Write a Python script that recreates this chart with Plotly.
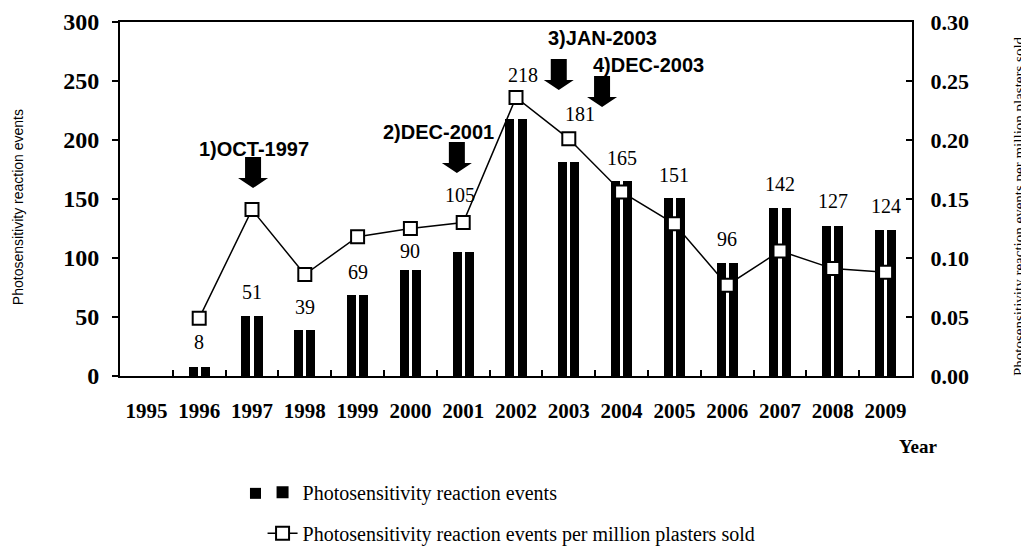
import plotly.graph_objects as go

# ---- data ----
years = [1995, 1996, 1997, 1998, 1999, 2000, 2001, 2002, 2003, 2004, 2005, 2006, 2007, 2008, 2009]
events = [None, 8, 51, 39, 69, 90, 105, 218, 181, 165, 151, 96, 142, 127, 124]
rate_per_million = [None, 0.049, 0.141, 0.086, 0.118, 0.125, 0.130, 0.236, 0.201, 0.156, 0.129, 0.077, 0.106, 0.091, 0.088]
tick_labels = [str(y) for y in years]
milestones = ["1)OCT-1997", "2)DEC-2001", "3)JAN-2003", "4)DEC-2003"]

# ---- styling / placement (not data) ----
label_yshift = [0, 25, 24, 23, 23, 19, 57, 44, 48, 23, 23, 24, 24, 25, 24]
label_xshift = [0, 0, 0, 0, 0, 0, -3, 7, 11, 0, 0, 0, 0, 0, 0]
milestone_text_pos = [(1997.04, 192.4), (2000.54, 206.8), (2003.63, 286.4), (2004.50, 263.6)]
milestone_arrow_tip = [(1997.02, 159.3), (2000.88, 172.0), (2002.81, 242.4), (2003.63, 227.9)]

SERIF = "Liberation Serif"
SANS = "Liberation Sans"

fig = go.Figure()

bar_w = 0.17
for i, off in enumerate([-0.199, 0.029]):
    fig.add_trace(go.Bar(
        x=years, y=events, width=bar_w, offset=off,
        marker=dict(color="black", line=dict(width=0)),
        name="Photosensitivity reaction events",
        showlegend=(i == 0), legendgroup="g1",
        yaxis="y",
    ))

fig.add_trace(go.Scatter(
    x=years, y=rate_per_million, mode="lines+markers",
    line=dict(color="black", width=1.5),
    marker=dict(symbol="square", size=13, color="white", line=dict(color="black", width=2)),
    name="Photosensitivity reaction events per million plasters sold",
    legendgroup="g2", yaxis="y2",
))

annotations = []
for yr, v, dx, dy in zip(years, events, label_xshift, label_yshift):
    if v is None:
        continue
    annotations.append(dict(x=yr, y=v, xref="x", yref="y", text=str(v), showarrow=False,
                            xshift=dx, yshift=dy, xanchor="center", yanchor="middle",
                            font=dict(family=SERIF, size=20, color="black")))

for txt, (tx, ty) in zip(milestones, milestone_text_pos):
    annotations.append(dict(x=tx, y=ty, xref="x", yref="y", text=txt, showarrow=False,
                            xanchor="center", yanchor="middle",
                            font=dict(family=SANS, size=20, color="black", weight="bold")))

annotations += [
    dict(x=-0.1288, y=0.477, xref="paper", yref="paper", text="Photosensitivity reaction events",
         textangle=-90, showarrow=False, xanchor="center", yanchor="middle",
         font=dict(family=SANS, size=14, color="black")),
    dict(x=1.135, y=0.480, xref="paper", yref="paper",
         text="Photosensitivity reaction events per million plasters sold",
         textangle=-90, showarrow=False, xanchor="center", yanchor="middle",
         font=dict(family=SERIF, size=15, color="black")),
    dict(x=1.0076, y=-0.2, xref="paper", yref="paper", text="Year", showarrow=False,
         xanchor="center", yanchor="middle",
         font=dict(family=SERIF, size=19, color="black", weight="bold")),
]

arrow_path = "M -8,31 L 8,31 L 8,10 L 15,10 L 0,0 L -15,10 L -8,10 Z"
shapes = []
for ax_, ay_ in milestone_arrow_tip:
    shapes.append(dict(type="path", xref="x", yref="y", xsizemode="pixel", ysizemode="pixel",
                       xanchor=ax_, yanchor=ay_, path=arrow_path,
                       fillcolor="black", line=dict(width=0)))
# second small square of the bar legend key ("■ ■")
shapes.append(dict(type="rect", xref="paper", yref="paper",
                   x0=0.1641, x1=0.178, y0=-0.347, y1=-0.316,
                   fillcolor="black", line=dict(width=0)))

fig.update_layout(
    width=1029, height=557,
    margin=dict(l=112, r=125, t=14, b=189, autoexpand=False),
    paper_bgcolor="white", plot_bgcolor="white",
    barmode="overlay", bargap=0,
    annotations=annotations, shapes=shapes,
    xaxis=dict(
        range=[1994.5, 2009.5], tickmode="array", tickvals=years, ticktext=tick_labels,
        ticks="", showgrid=False, zeroline=False,
        showline=True, linecolor="black", linewidth=2, mirror=True,
        tickfont=dict(family=SERIF, size=21, color="black", weight="bold"),
        ticklabelstandoff=15,
        minor=dict(tickmode="array", tickvals=[y + 0.5 for y in years[:-1]],
                   ticks="inside", ticklen=6, tickwidth=1.5, tickcolor="black"),
    ),
    yaxis=dict(
        range=[0, 300], dtick=50, tick0=0, ticks="outside", ticklen=6, tickwidth=1.5,
        tickcolor="black", showgrid=False, zeroline=False,
        showline=True, linecolor="black", linewidth=2,
        tickfont=dict(family=SERIF, size=24, color="black", weight="bold"),
        ticklabelstandoff=8,
    ),
    yaxis2=dict(
        range=[0, 0.3], dtick=0.05, tick0=0, tickformat=".2f", overlaying="y", side="right",
        ticks="inside", ticklen=6, tickwidth=1.5, tickcolor="black",
        showgrid=False, zeroline=False, showline=True, linecolor="black", linewidth=2,
        tickfont=dict(family=SERIF, size=22, color="black", weight="bold"),
        ticklabelstandoff=12,
    ),
    legend=dict(
        x=0.18, y=-0.273, xanchor="left", yanchor="top",
        font=dict(family=SERIF, size=20, color="black"),
        traceorder="grouped", tracegroupgap=12, bgcolor="rgba(0,0,0,0)",
    ),
)

fig.write_html("out.html")
